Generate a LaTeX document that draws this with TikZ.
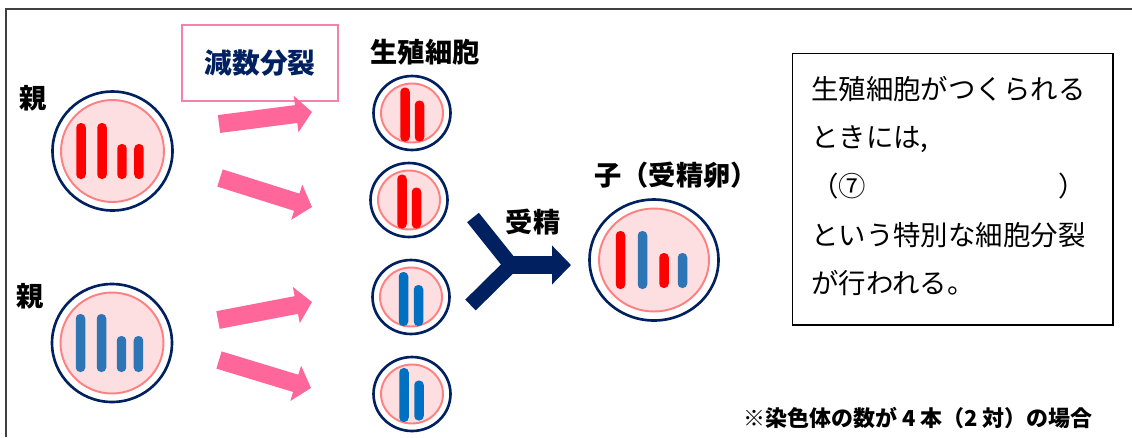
\documentclass[tikz,border=0pt]{standalone}
\usepackage{fontspec}
\setmainfont{Noto Sans CJK JP}
\usepackage{xcolor}
\definecolor{navy-900}{RGB}{0,32,96}
\definecolor{pink-arrow}{RGB}{255,102,153}
\definecolor{pink-line}{RGB}{244,130,170}
\definecolor{cell-fill}{RGB}{253,222,225}
\definecolor{cell-ring}{RGB}{255,128,128}
\definecolor{chromo-red}{RGB}{255,0,0}
\definecolor{chromo-blue}{RGB}{46,117,182}
\definecolor{chromo-blue-dark}{RGB}{0,112,192}
\definecolor{frame-gray}{RGB}{64,64,64}
\usepackage{tikz}
\usetikzlibrary{shapes.geometric,arrows.meta}

\begin{document}
\begin{tikzpicture}[
    x=0.02cm, y=-0.02cm,
    cell outer/.style={
        ellipse,
        draw=navy-900,
        line width=1.5pt,
        fill=white,
        inner sep=0pt
    },
    cell inner/.style={
        ellipse,
        draw=cell-ring,
        line width=1.1pt,
        fill=cell-fill,
        inner sep=0pt
    },
    chromosome/.style={
        rectangle,
        rounded corners=2.5pt,
        fill=#1,
        minimum width=0.19cm,
        inner sep=0pt
    },
    pink arrow/.style={
        draw=pink-arrow,
        line width=0.36cm,
        -{Triangle[width=0.72cm,length=0.32cm]}
    },
    title text/.style={font=\bfseries\fontsize{15.5pt}{18pt}\selectfont, inner sep=0pt},
    note text/.style={
        font=\fontsize{15.6pt}{27.7pt}\selectfont,
        align=left,
        inner sep=0pt
    }
]
\useasboundingbox (0,0) rectangle (1132,437);

% Outer frame (left and top edges only)
\draw[frame-gray, line width=0.85pt] (6,437) -- (6,9) -- (1132,9);

% === PARENTS ===
\node[title text] (oya1) at (33,98) {親};
\node[title text] (oya2) at (30,296) {親};

% Parent 1 (red)
\node[cell outer, minimum width=2.4cm, minimum height=2.38cm] (p1) at (112.5,151) {};
\node[cell inner, minimum width=2.06cm, minimum height=2.04cm] at (p1) {};
\node[chromosome=chromo-red, minimum height=1.12cm] at ([xshift=-0.63cm]p1.center) {};
\node[chromosome=chromo-red, minimum height=1.12cm] at ([xshift=-0.21cm]p1.center) {};
\node[chromosome=chromo-red, minimum height=0.7cm] at ([xshift=0.19cm,yshift=-0.21cm]p1.center) {};
\node[chromosome=chromo-red, minimum height=0.7cm] at ([xshift=0.53cm,yshift=-0.21cm]p1.center) {};

% Parent 2 (blue)
\node[cell outer, minimum width=2.4cm, minimum height=2.36cm] (p2) at (112,343) {};
\node[cell inner, minimum width=2.06cm, minimum height=2.02cm] at (p2) {};
\node[chromosome=chromo-blue, minimum height=1.16cm] at ([xshift=-0.63cm]p2.center) {};
\node[chromosome=chromo-blue, minimum height=1.16cm] at ([xshift=-0.21cm]p2.center) {};
\node[chromosome=chromo-blue, minimum height=0.72cm] at ([xshift=0.19cm,yshift=-0.22cm]p2.center) {};
\node[chromosome=chromo-blue, minimum height=0.72cm] at ([xshift=0.53cm,yshift=-0.22cm]p2.center) {};

% === MEIOSIS ===
\node[draw=pink-line, line width=0.6pt, minimum width=3.12cm, minimum height=1.52cm,
      text=navy-900, font=\bfseries\fontsize{15.8pt}{18pt}\selectfont] (meiosis) at (260,63) {減数分裂};

\coordinate (a1s) at (219,124);
\coordinate (a1e) at (312,112);
\coordinate (a2s) at (220,178);
\coordinate (a2e) at (312,207);
\coordinate (a3s) at (218,320);
\coordinate (a3e) at (312,302);
\coordinate (a4s) at (219,360);
\coordinate (a4e) at (311,388);
\draw[pink arrow] (a1s) -- (a1e);
\draw[pink arrow] (a2s) -- (a2e);
\draw[pink arrow] (a3s) -- (a3e);
\draw[pink arrow] (a4s) -- (a4e);

% === GAMETES ===
\node[title text] (gamete) at (425,52) {生殖細胞};

\node[cell outer, minimum width=1.54cm, minimum height=1.48cm] (g1) at (412,113) {};
\node[cell inner, minimum width=1.24cm, minimum height=1.18cm] at (g1) {};
\node[chromosome=chromo-red, minimum height=1.08cm] at ([xshift=-0.14cm,yshift=-0.03cm]g1.center) {};
\node[chromosome=chromo-red, minimum height=0.82cm] at ([xshift=0.15cm,yshift=-0.16cm]g1.center) {};

\node[cell outer, minimum width=1.54cm, minimum height=1.48cm] (g2) at (409,200) {};
\node[cell inner, minimum width=1.24cm, minimum height=1.18cm] at (g2) {};
\node[chromosome=chromo-red, minimum height=1.08cm] at ([xshift=-0.14cm,yshift=-0.03cm]g2.center) {};
\node[chromosome=chromo-red, minimum height=0.82cm] at ([xshift=0.15cm,yshift=-0.16cm]g2.center) {};

\node[cell outer, minimum width=1.54cm, minimum height=1.48cm] (g3) at (411,297) {};
\node[cell inner, minimum width=1.24cm, minimum height=1.18cm] at (g3) {};
\node[chromosome=chromo-blue-dark, minimum height=1.08cm] at ([xshift=-0.15cm,yshift=-0.04cm]g3.center) {};
\node[chromosome=chromo-blue-dark, minimum height=0.82cm] at ([xshift=0.15cm,yshift=-0.17cm]g3.center) {};

\node[cell outer, minimum width=1.54cm, minimum height=1.48cm] (g4) at (412,394) {};
\node[cell inner, minimum width=1.24cm, minimum height=1.18cm] at (g4) {};
\node[chromosome=chromo-blue-dark, minimum height=1.08cm] at ([xshift=-0.16cm,yshift=-0.02cm]g4.center) {};
\node[chromosome=chromo-blue-dark, minimum height=0.8cm] at ([xshift=0.14cm,yshift=-0.13cm]g4.center) {};

% === FERTILIZATION ===
\node[title text] (fert) at (533,222) {受精};

\coordinate (yu) at (473,217.5);
\coordinate (yl) at (470.5,305);
\coordinate (yj) at (511,265);
\coordinate (yt) at (571,265);
\draw[navy-900, line width=0.3cm] (yu) -- (yj) -- (yl);
\draw[navy-900, line width=0.36cm, -{Triangle[width=0.76cm,length=0.38cm]}] (yj) -- (yt);

% Zygote
\node[title text] (child) at (676,175) {子（受精卵）};
\node[cell outer, minimum width=2.58cm, minimum height=2.42cm] (z) at (654,260) {};
\node[cell inner, minimum width=2.2cm, minimum height=2.06cm] at (z) {};
\node[chromosome=chromo-red, minimum height=1.16cm] at ([xshift=-0.67cm]z.center) {};
\node[chromosome=chromo-blue, minimum height=1.16cm] at ([xshift=-0.23cm]z.center) {};
\node[chromosome=chromo-red, minimum height=0.7cm] at ([xshift=0.2cm,yshift=-0.21cm]z.center) {};
\node[chromosome=chromo-blue, minimum height=0.7cm] at ([xshift=0.57cm,yshift=-0.21cm]z.center) {};

% === NOTE BOX ===
\node[draw=black, line width=0.6pt, minimum width=6.42cm, minimum height=5.44cm, inner sep=0pt] (notebox) at (952.5,189) {};
\node[note text, anchor=west] (notetext) at (811,186) {
    生殖細胞がつくられる\\
    ときには,\\
    （⑦　　　　　　　）\\
    という特別な細胞分裂\\
    が行われる。
};

% Footnote
\node[font=\bfseries\fontsize{12.5pt}{14pt}\selectfont, inner sep=0pt] (footnote) at (918,418) {※染色体の数が 4 本（2 対）の場合};

\end{tikzpicture}
\end{document}
